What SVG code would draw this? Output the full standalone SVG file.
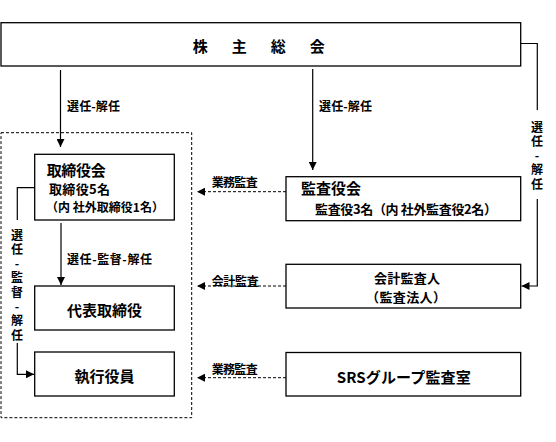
<svg xmlns="http://www.w3.org/2000/svg" width="556" height="442" viewBox="0 0 556 442">
<style>
.t{font-family:"Noto Sans CJK JP","Liberation Sans",sans-serif;font-weight:bold;fill:#000;dominant-baseline:central}
.v{font-family:"Noto Sans CJK JP","Liberation Sans",sans-serif;font-weight:bold;fill:#000;font-size:12px;writing-mode:vertical-rl;text-orientation:upright;letter-spacing:2.3px}
.s12{font-size:12px}
.s13{font-size:13px}
.s15{font-size:15px}
.m{text-anchor:middle}
.box{fill:#fff;stroke:#000;stroke-width:1.3}
.ln{stroke:#000;stroke-width:1.2;fill:none}
.dl{stroke:#000;stroke-width:1;stroke-dasharray:3 2;fill:none}
</style>
<defs>
<marker id="ah" markerUnits="userSpaceOnUse" markerWidth="9" markerHeight="8" refX="8" refY="4" orient="auto">
<path d="M0,0 L8,4 L0,8 Z" fill="#000"/>
</marker>
</defs>
<rect width="556" height="442" fill="#fff"/>
<rect x="1" y="132.7" width="190.7" height="285" fill="none" class="dl"/>
<g id="connectors">
<path class="ln" d="M60.5,70 V147" marker-end="url(#ah)"/>
<path class="ln" d="M312.7,69 V170" marker-end="url(#ah)"/>
<path class="ln" d="M520.7,43.5 H537.3 V110"/>
<path class="ln" d="M537.3,199 V286 H521.5" marker-end="url(#ah)"/>
<path class="ln" d="M61,223 V285" marker-end="url(#ah)"/>
<path class="ln" d="M34.7,187.7 H17.3 V220"/>
<path class="ln" d="M17.3,343 V374.3 H34" marker-end="url(#ah)"/>
<path class="dl" d="M286,191.7 H197" marker-end="url(#ah)"/>
<path class="dl" d="M286,286 H197" marker-end="url(#ah)"/>
<path class="dl" d="M286,377.7 H197" marker-end="url(#ah)"/>
<text class="t s12" x="67" y="105" textLength="53">選任-解任</text>
<text class="t s12" x="319" y="105" textLength="53">選任-解任</text>
<text class="t s12" x="67" y="258" textLength="85">選任-監督-解任</text>
<text class="t s12" x="211.7" y="181" textLength="46">業務監査</text>
<text class="t s12" x="211.7" y="280" textLength="47">会計監査</text>
<text class="t s12" x="211.7" y="368" textLength="46">業務監査</text>
<text class="v" x="537" y="121">選任-解任</text>
<text class="v" x="17" y="229">選任-監督-解任</text>
</g>
<g id="shareholders">
<rect class="box" x="1" y="22.7" width="519.7" height="43.3"/>
<text class="t s15 m" x="261" y="45" style="letter-spacing:4.5px">株　主　総　会</text>
</g>
<g id="board">
<rect class="box" x="34.7" y="154.3" width="139.6" height="65.7"/>
<text class="t s15" x="46.7" y="169.5" textLength="59">取締役会</text>
<text class="t s13" x="49" y="188" textLength="61">取締役5名</text>
<text class="t s12" x="46" y="206.5" textLength="118">（内 社外取締役1名）</text>
</g>
<g id="auditors">
<rect class="box" x="286" y="176.7" width="234.7" height="44"/>
<text class="t s15" x="301" y="187.5" textLength="60">監査役会</text>
<text class="t s13" x="315" y="208" textLength="182">監査役3名（内 社外監査役2名）</text>
</g>
<g id="representative">
<rect class="box" x="34.7" y="286" width="139.6" height="44"/>
<text class="t s15 m" x="104.5" y="309">代表取締役</text>
</g>
<g id="officers">
<rect class="box" x="34.7" y="352" width="139.6" height="44"/>
<text class="t s15 m" x="104.5" y="375">執行役員</text>
</g>
<g id="accounting">
<rect class="box" x="286" y="264.3" width="234.7" height="43.7"/>
<text class="t s13 m" x="407" y="277.5" textLength="66">会計監査人</text>
<text class="t s13 m" x="406" y="296.8" textLength="80">（監査法人）</text>
</g>
<g id="srs">
<rect class="box" x="286" y="352.5" width="234.7" height="43.5"/>
<text class="t s15" x="336.7" y="376.5" textLength="134">SRSグループ監査室</text>
</g>
</svg>
